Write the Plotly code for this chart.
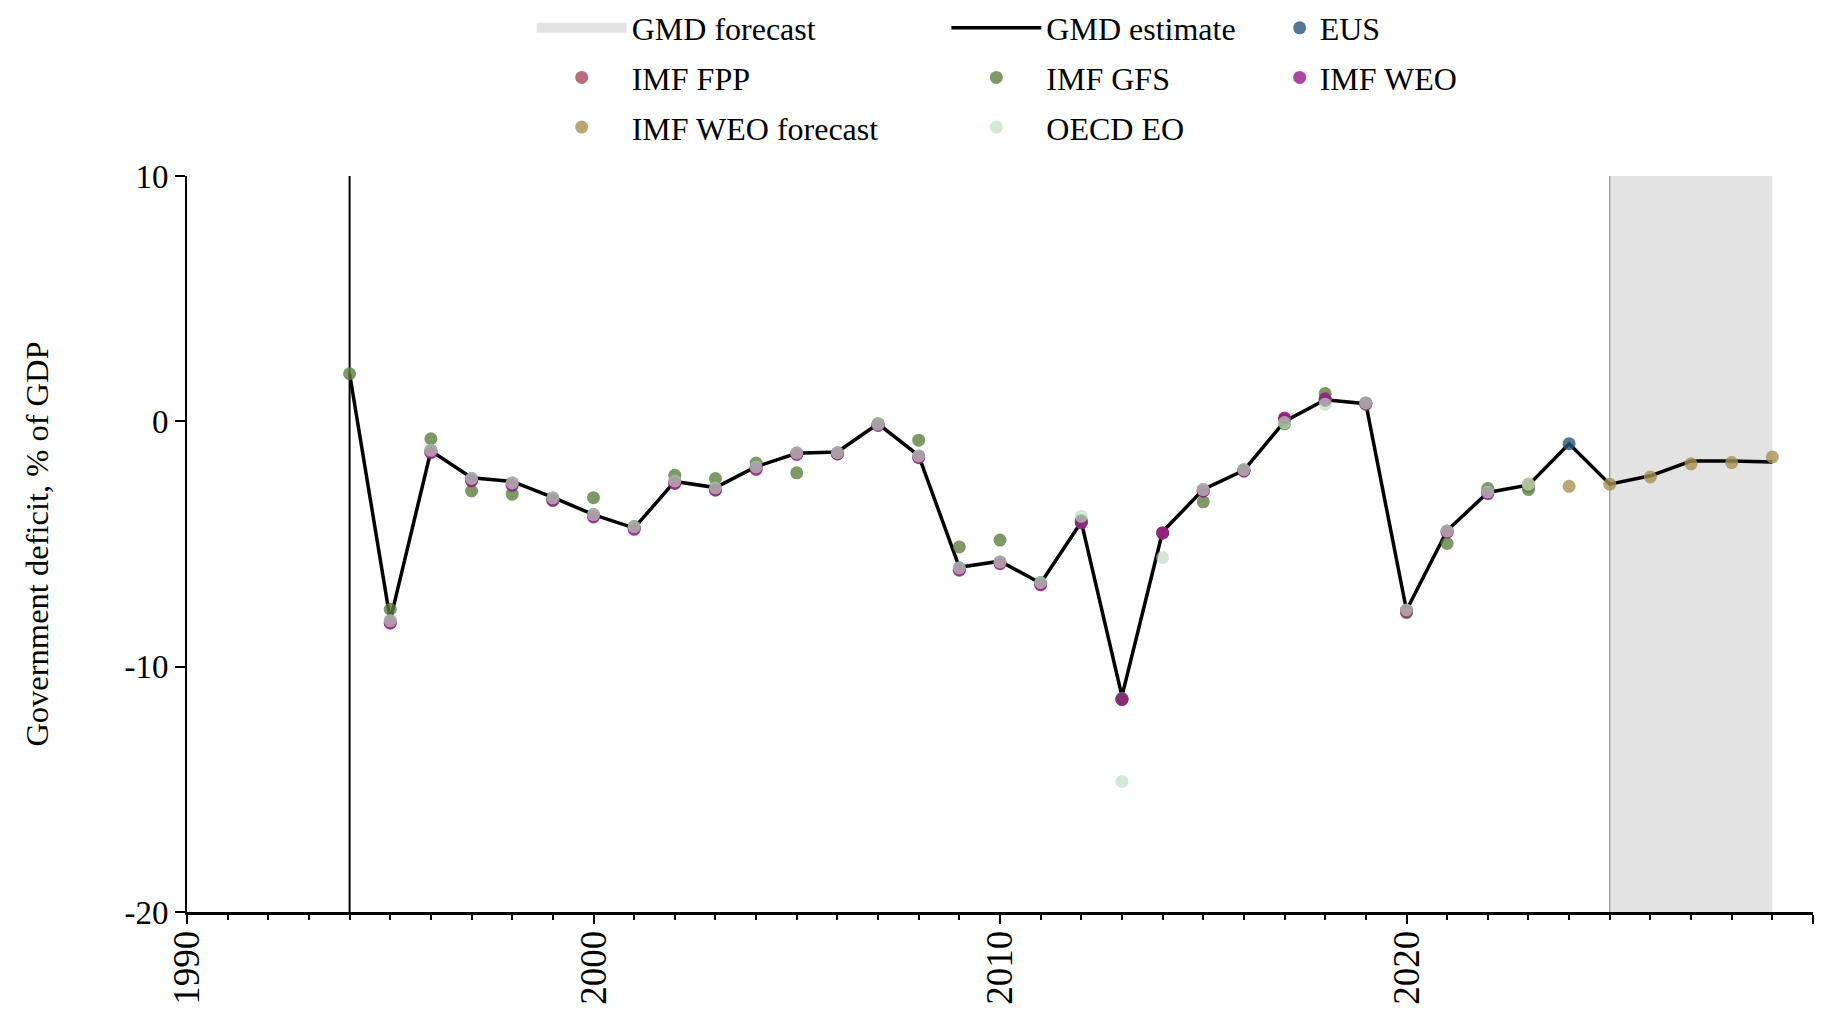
import plotly.graph_objects as go

# ---------------- data ----------------
gmd_years = list(range(1994, 2030))
gmd_estimate = [1.94, -8.10, -1.20, -2.30, -2.45, -3.10, -3.80, -4.35, -2.45, -2.70,
                -1.85, -1.30, -1.25, -0.10, -1.40, -5.95, -5.70, -6.60, -4.10, -11.20,
                -4.50, -2.78, -2.00, 0.00, 0.88, 0.72, -7.70, -4.45, -2.90, -2.60,
                -0.91, -2.56, -2.22, -1.62, -1.62, -1.66]

eus_years = list(range(1995, 2025))
eus_values = [-8.13, -1.18, -2.33, -2.51, -3.12, -3.80, -4.30, -2.43, -2.71, -1.86,
              -1.29, -1.28, -0.12, -1.41, -5.97, -5.73, -6.57, -4.05, -11.33, -4.55,
              -2.78, -1.97, 0.05, 0.85, 0.75, -7.69, -4.47, -2.88, -2.65, -0.91]

fpp_years = list(range(1995, 2023))
fpp_values = [-8.20, -1.25, -2.40, -2.58, -3.18, -3.86, -4.36, -2.50, -2.78, -1.92,
              -1.33, -1.31, -0.15, -1.45, -6.03, -5.77, -6.63, -4.10, -11.33, -4.55,
              -2.82, -2.00, 0.10, 0.90, 0.73, -7.72, -4.50, -2.92]

gfs_years = [1994, 1995, 1996, 1997, 1998, 1999, 2000, 2001, 2002, 2003, 2004, 2005,
             2006, 2007, 2008, 2009, 2010, 2011, 2012, 2013, 2015, 2016, 2017, 2018,
             2019, 2020, 2021, 2022, 2023]
gfs_values = [1.94, -7.66, -0.71, -2.84, -2.97, -3.22, -3.11, -4.30, -2.20, -2.33,
              -1.70, -2.10, -1.32, -0.10, -0.77, -5.12, -4.84, -6.60, -4.10, -11.29,
              -3.28, -2.00, -0.10, 1.13, 0.69, -7.80, -4.98, -2.74, -2.78]

weo_years = list(range(1995, 2023))
weo_values = [-8.23, -1.28, -2.43, -2.61, -3.22, -3.90, -4.40, -2.53, -2.81, -1.96,
              -1.35, -1.33, -0.17, -1.48, -6.07, -5.80, -6.67, -4.14, -11.33, -4.55,
              -2.85, -2.03, 0.14, 0.92, 0.72, -7.75, -4.52, -2.95]

weo_fc_years = list(range(2023, 2030))
weo_fc_values = [-2.56, -2.65, -2.56, -2.27, -1.73, -1.68, -1.45]

oecd_years = list(range(1995, 2024))
oecd_values = [-8.13, -1.18, -2.33, -2.51, -3.12, -3.80, -4.30, -2.43, -2.71, -1.86,
               -1.29, -1.28, -0.12, -1.41, -5.97, -5.73, -6.57, -3.87, -14.68, -5.55,
               -2.78, -1.97, -0.05, 0.70, 0.75, -7.69, -4.47, -2.88, -2.56]

data_start_year = 1994
forecast_start, forecast_end = 2025, 2029

x_range = [1990, 2030]
y_range = [-20, 10]
x_tickvals = [1990, 2000, 2010, 2020, 2030]
y_tickvals = [-20, -10, 0, 10]
y_ticktext = ["-20", "-10", "0", "10"]

# ---------------- styling ----------------
FONT = "Liberation Serif"
MS = 13
BAND = "#e3e3e3"

fig = go.Figure()

# forecast band (filled area through the data axes)
fig.add_trace(go.Scatter(
    x=[forecast_start, forecast_end, forecast_end, forecast_start, forecast_start],
    y=[y_range[0], y_range[0], y_range[1], y_range[1], y_range[0]],
    mode="none", fill="toself", fillcolor=BAND, showlegend=False, hoverinfo="skip"))
# legend swatch for the band (no visible data)
fig.add_trace(go.Scatter(
    x=[forecast_start, forecast_end], y=[None, None], mode="lines",
    line=dict(color=BAND, width=39), name="GMD forecast", showlegend=True,
    legend="legend", legendgroup="f", legendrank=1, hoverinfo="skip"))
# left border of forecast band
fig.add_trace(go.Scatter(
    x=[forecast_start, forecast_start], y=y_range, mode="lines",
    line=dict(color="#808080", width=1), showlegend=False, hoverinfo="skip"))

fig.add_shape(type="line", xref="x", yref="y",
              x0=data_start_year, x1=data_start_year, y0=y_range[0], y1=y_range[1],
              line=dict(color="black", width=2), layer="below")

fig.add_trace(go.Scatter(x=gmd_years, y=gmd_estimate, mode="lines", name="GMD estimate",
                         line=dict(color="black", width=3.5), legend="legend2",
                         legendgroup="e", legendrank=1))

def pts(x, y, name, color, legend, rank):
    fig.add_trace(go.Scatter(x=x, y=y, mode="markers", name=name, legend=legend,
                             legendgroup=name, legendrank=rank,
                             marker=dict(color=color, size=MS, line=dict(width=0))))

pts(eus_years, eus_values, "EUS", "rgba(41,84,124,0.8)", "legend3", 1)
pts(fpp_years, fpp_values, "IMF FPP", "rgba(166,74,86,0.8)", "legend", 2)
pts(gfs_years, gfs_values, "IMF GFS", "rgba(92,128,64,0.8)", "legend2", 2)
pts(weo_years, weo_values, "IMF WEO", "rgba(146,25,135,0.8)", "legend3", 2)
pts(weo_fc_years, weo_fc_values, "IMF WEO forecast", "rgba(166,144,83,0.8)", "legend", 3)
pts(oecd_years, oecd_values, "OECD EO", "rgba(187,220,192,0.65)", "legend2", 3)

leg_common = dict(orientation="v", yanchor="top", y=1.2384, xanchor="left",
                  font=dict(family=FONT, size=32, color="black"),
                  bgcolor="rgba(0,0,0,0)", tracegroupgap=5)

fig.update_layout(
    width=1821, height=1001,
    margin=dict(l=179, r=16, t=168, b=97, autoexpand=False),
    paper_bgcolor="white", plot_bgcolor="white",
    font=dict(family=FONT, size=32, color="black"),
    legend=dict(x=0.212, itemwidth=90, **leg_common),
    legend2=dict(x=0.467, itemwidth=90, **leg_common),
    legend3=dict(x=0.672, itemwidth=30, **leg_common),
    xaxis=dict(range=x_range, tickvals=x_tickvals,
               ticks="outside", ticklen=9, tickwidth=2, tickcolor="black",
               tickangle=-90, tickfont=dict(family=FONT, size=37, color="black"),
               ticklabelstandoff=-8,
               showline=True, linecolor="black", linewidth=3,
               showgrid=False, zeroline=False, automargin=False,
               minor=dict(dtick=1, tick0=1990, ticks="outside", ticklen=5,
                          tickwidth=2, tickcolor="black", showgrid=False)),
    yaxis=dict(range=y_range, tickvals=y_tickvals, ticktext=y_ticktext,
               ticks="outside", ticklen=10, tickwidth=2, tickcolor="black",
               tickfont=dict(family=FONT, size=33, color="black"),
               showline=True, linecolor="black", linewidth=2,
               showgrid=False, zeroline=False, automargin=False,
               title=dict(text="Government deficit, % of GDP",
                          font=dict(family=FONT, size=32.5, color="black"),
                          standoff=66)),
)

fig.write_html("out.html")
